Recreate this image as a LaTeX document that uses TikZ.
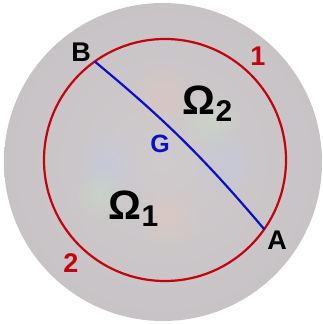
\documentclass[tikz,border=0pt]{standalone}
\usepackage{fontspec}
\setmainfont{Liberation Sans}
\usetikzlibrary{fadings, calc}
\definecolor{ink}{HTML}{000000}
\definecolor{rim}{HTML}{C4000C}
\definecolor{geo}{HTML}{0A10C4}
\definecolor{sphc}{HTML}{CFCBCD}
\definecolor{sphm}{HTML}{C5C0C3}
\definecolor{sphe}{HTML}{ADA8AB}
\pgfdeclareradialshading{spherefill}{\pgfpoint{0bp}{0bp}}{%
  color(0bp)=(sphc); color(36bp)=(sphm); color(50bp)=(sphe)}
\tikzfading[name=blobfade, inner color=transparent!0, outer color=transparent!100]
\newcommand{\omsub}[1]{\fontsize{41}{41}\selectfont Ω\kern0.5pt\raisebox{-7pt}{\fontsize{30}{30}\selectfont #1}}
\tikzset{
  pt/.style={font=\fontsize{27}{27}\selectfont\bfseries, text=ink, inner sep=0pt},
  arcno/.style={font=\fontsize{27}{27}\selectfont\bfseries, text=rim, inner sep=0pt},
  region/.style={font=\bfseries, text=ink, inner sep=0pt, anchor=base west},
  blob/.style={path fading=blobfade, opacity=0.45},
  geoline/.style={draw=geo, line width=2.2pt},
}
\begin{document}
\begin{tikzpicture}[x=1pt, y=1pt]
  \useasboundingbox (0,0) rectangle (322,324);
  \fill[white] (0,0) rectangle (322,324);
  % sphere with faint colour patches
  \shade[shading=spherefill] (163,162) circle (159);
  \fill[blob, color={rgb,255:red,232;green,196;blue,186}] (163,227) circle (34);
  \fill[blob, color={rgb,255:red,198;green,226;blue,198}] (212,204) circle (30);
  \fill[blob, color={rgb,255:red,192;green,200;blue,232}] (227,161) circle (34);
  \fill[blob, color={rgb,255:red,192;green,200;blue,232}] (107,161) circle (34);
  \fill[blob, color={rgb,255:red,232;green,200;blue,186}] (167,107) circle (32);
  \fill[blob, color={rgb,255:red,200;green,222;blue,200}] (100,130) circle (26);
  % circle 1-2 and the curve G
  \coordinate (ctr) at (165,164);
  \draw[rim, line width=2.2pt] (ctr) circle (121);
  \coordinate (B) at ($(ctr)+(125.5:121)$);
  \coordinate (A) at ($(ctr)+(-34.9:121)$);
  \draw[geoline] (B) to[bend left=5] (A);
  \node[pt] (labB) at (81,272) {B};
  \node[pt] (labA) at (277,84) {A};
  \node[arcno] (one) at (258,268) {1};
  \node[arcno] (two) at (71,61) {2};
  \node[pt, text=geo, font=\fontsize{25}{25}\selectfont\bfseries] (labG) at (160,180) {G};
  \node[region] (om1) at (108,104) {\omsub{1}};
  \node[region] (om2) at (182,209) {\omsub{2}};
\end{tikzpicture}
\end{document}
